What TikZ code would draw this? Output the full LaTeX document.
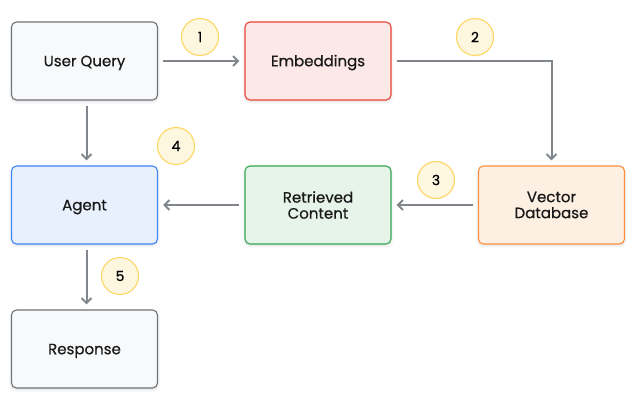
\documentclass[tikz,border=0pt]{standalone}
\usepackage{fontspec}
\setmainfont{Poppins}
\newfontfamily\medfont{Poppins}[BoldFont=Poppins, BoldFeatures={FakeBold=0.6}]
\usetikzlibrary{arrows.meta,shadows.blur}
\definecolor{arr}{HTML}{80868B}
\definecolor{grayfill}{HTML}{F8F9FA}
\definecolor{graydraw}{HTML}{70757A}
\definecolor{redfill}{HTML}{FCE8E6}
\definecolor{reddraw}{HTML}{EA4335}
\definecolor{orfill}{HTML}{FEEFE3}
\definecolor{ordraw}{HTML}{FA903E}
\definecolor{grfill}{HTML}{E6F4EA}
\definecolor{grdraw}{HTML}{34A853}
\definecolor{blfill}{HTML}{E8F0FE}
\definecolor{bldraw}{HTML}{4285F4}
\definecolor{badgefill}{HTML}{FEF7E0}
\definecolor{badgedraw}{HTML}{FDD663}
\tikzset{
  box/.style={rounded corners=5pt, line width=1.1pt, minimum width=146pt, minimum height=78pt,
    align=center, font=\medfont\bfseries\fontsize{15}{16}\selectfont, text=black!90,
    blur shadow={shadow blur steps=5, shadow xshift=0pt, shadow yshift=-1.5pt, shadow opacity=15, shadow blur radius=3pt}},
  oneline/.style={text height=11.5pt, text depth=1pt},
  graybox/.style={box, oneline, fill=grayfill, draw=graydraw},
  redbox/.style={box, oneline, fill=redfill, draw=reddraw},
  orbox/.style={box, fill=orfill, draw=ordraw},
  grbox/.style={box, fill=grfill, draw=grdraw},
  blbox/.style={box, oneline, fill=blfill, draw=bldraw},
  badge/.style={circle, fill=badgefill, draw=badgedraw, line width=1.1pt, minimum size=37pt, inner sep=0pt,
    font=\medfont\bfseries\fontsize{14}{16}\selectfont},
  conn/.style={draw=arr, line width=2pt, -{Straight Barb[length=5pt,width=10pt,line width=2pt]}, shorten >=5pt, shorten <=5pt}
}
\begin{document}
\begin{tikzpicture}[x=1pt,y=-1pt]
\useasboundingbox (0,0) rectangle (637,401);
\node[graybox] (uq) at (84.5,61) {User Query};
\node[redbox] (emb) at (318,61) {Embeddings};
\node[orbox] (vdb) at (551.5,205) {Vector\\Database};
\node[grbox] (rc) at (318,205) {Retrieved\\Content};
\node[blbox] (ag) at (84.5,205) {Agent};
\node[graybox] (resp) at (84.5,349) {Response};
\node[badge] (b1) at (200,37) {1};
\node[badge] (b2) at (475,37) {2};
\node[badge] (b3) at (436,180) {3};
\node[badge] (b4) at (176,146) {4};
\node[badge] (b5) at (120,276) {5};
\draw[conn] (uq.east) -- (emb.west);
\draw[conn] (emb.east) -| (vdb.north);
\draw[conn] (vdb.west) -- (rc.east);
\draw[conn] (rc.west) -- (ag.east);
\draw[conn] ([xshift=2pt]uq.south) -- ([xshift=2pt]ag.north);
\draw[conn] ([xshift=2pt]ag.south) -- ([xshift=2pt]resp.north);
\end{tikzpicture}
\end{document}
